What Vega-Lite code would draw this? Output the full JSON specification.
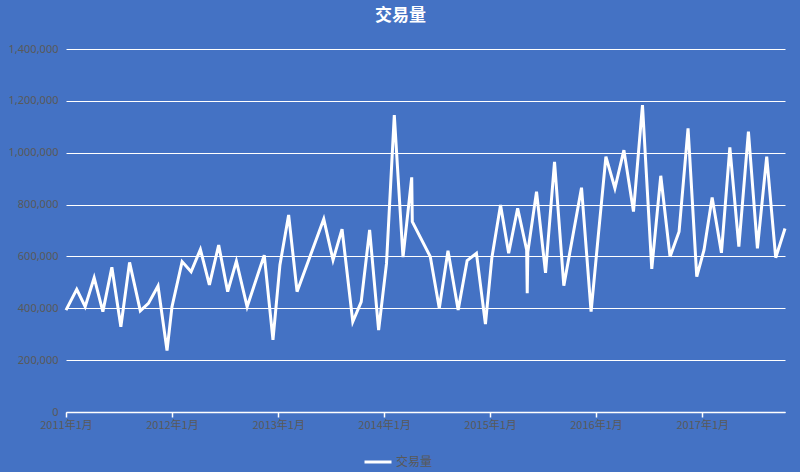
{
  "$schema": "https://vega.github.io/schema/vega-lite/v6.json",
  "width": 719,
  "height": 363,
  "autosize": {"type": "none"},
  "padding": {"left": 66, "top": 49, "right": 15, "bottom": 60},
  "background": "#4472C4",
  "config": {"view": {"stroke": null}, "font": "Noto Sans CJK SC"},
  "title": {
    "text": "交易量",
    "color": "#ffffff",
    "fontSize": 17,
    "font": "Noto Sans CJK SC",
    "fontWeight": "bold",
    "anchor": "middle",
    "dx": -25,
    "offset": 18
  },
  "data": {
    "values": [
      {"date": "2011-01-01", "value": 393000},
      {"date": "2011-02-07", "value": 473000},
      {"date": "2011-03-08", "value": 406000},
      {"date": "2011-04-08", "value": 518000},
      {"date": "2011-05-08", "value": 387000},
      {"date": "2011-06-08", "value": 558000},
      {"date": "2011-07-09", "value": 329000},
      {"date": "2011-08-08", "value": 577000},
      {"date": "2011-09-14", "value": 390000},
      {"date": "2011-10-12", "value": 419000},
      {"date": "2011-11-14", "value": 486000},
      {"date": "2011-12-15", "value": 237000},
      {"date": "2012-01-01", "value": 405000},
      {"date": "2012-02-05", "value": 580000},
      {"date": "2012-03-07", "value": 541000},
      {"date": "2012-04-08", "value": 627000},
      {"date": "2012-05-09", "value": 490000},
      {"date": "2012-06-10", "value": 644000},
      {"date": "2012-07-11", "value": 464000},
      {"date": "2012-08-10", "value": 582000},
      {"date": "2012-09-16", "value": 406000},
      {"date": "2012-11-14", "value": 605000},
      {"date": "2012-12-14", "value": 278000},
      {"date": "2013-01-07", "value": 567000},
      {"date": "2013-02-06", "value": 760000},
      {"date": "2013-03-07", "value": 464000},
      {"date": "2013-06-07", "value": 744000},
      {"date": "2013-07-09", "value": 586000},
      {"date": "2013-08-09", "value": 705000},
      {"date": "2013-09-15", "value": 348000},
      {"date": "2013-10-14", "value": 425000},
      {"date": "2013-11-12", "value": 702000},
      {"date": "2013-12-13", "value": 316000},
      {"date": "2014-01-09", "value": 571000},
      {"date": "2014-02-05", "value": 1145000},
      {"date": "2014-03-07", "value": 597000},
      {"date": "2014-04-06", "value": 905000},
      {"date": "2014-04-08", "value": 734000},
      {"date": "2014-06-09", "value": 599000},
      {"date": "2014-07-10", "value": 400000},
      {"date": "2014-08-09", "value": 622000},
      {"date": "2014-09-13", "value": 393000},
      {"date": "2014-10-14", "value": 584000},
      {"date": "2014-11-15", "value": 612000},
      {"date": "2014-12-16", "value": 339000},
      {"date": "2015-01-07", "value": 594000},
      {"date": "2015-02-06", "value": 798000},
      {"date": "2015-03-06", "value": 612000},
      {"date": "2015-04-06", "value": 786000},
      {"date": "2015-05-07", "value": 625000},
      {"date": "2015-05-09", "value": 458000},
      {"date": "2015-05-11", "value": 617000},
      {"date": "2015-06-10", "value": 850000},
      {"date": "2015-07-11", "value": 537000},
      {"date": "2015-08-11", "value": 965000},
      {"date": "2015-09-12", "value": 487000},
      {"date": "2015-11-12", "value": 865000},
      {"date": "2015-12-15", "value": 387000},
      {"date": "2016-01-09", "value": 683000},
      {"date": "2016-02-04", "value": 985000},
      {"date": "2016-03-06", "value": 863000},
      {"date": "2016-04-06", "value": 1010000},
      {"date": "2016-05-09", "value": 773000},
      {"date": "2016-06-09", "value": 1184000},
      {"date": "2016-07-11", "value": 552000},
      {"date": "2016-08-11", "value": 911000},
      {"date": "2016-09-12", "value": 599000},
      {"date": "2016-10-13", "value": 695000},
      {"date": "2016-11-13", "value": 1094000},
      {"date": "2016-12-13", "value": 522000},
      {"date": "2017-01-07", "value": 625000},
      {"date": "2017-02-04", "value": 827000},
      {"date": "2017-03-08", "value": 614000},
      {"date": "2017-04-06", "value": 1021000},
      {"date": "2017-05-07", "value": 638000},
      {"date": "2017-06-09", "value": 1081000},
      {"date": "2017-07-10", "value": 631000},
      {"date": "2017-08-11", "value": 985000},
      {"date": "2017-09-11", "value": 595000},
      {"date": "2017-10-13", "value": 708000}
    ]
  },
  "mark": {"type": "line", "strokeWidth": 3, "strokeJoin": "miter", "strokeMiterLimit": 4},
  "encoding": {
    "x": {
      "field": "date",
      "type": "temporal",
      "scale": {
        "type": "utc",
        "domain": [
          {"year": 2011, "month": 1, "date": 1, "utc": true},
          {"year": 2017, "month": 10, "date": 13, "utc": true}
        ],
        "nice": false
      },
      "axis": {
        "title": null,
        "grid": false,
        "values": [
          {"year": 2011, "month": 1, "date": 1, "utc": true},
          {"year": 2012, "month": 1, "date": 1, "utc": true},
          {"year": 2013, "month": 1, "date": 1, "utc": true},
          {"year": 2014, "month": 1, "date": 1, "utc": true},
          {"year": 2015, "month": 1, "date": 1, "utc": true},
          {"year": 2016, "month": 1, "date": 1, "utc": true},
          {"year": 2017, "month": 1, "date": 1, "utc": true}
        ],
        "labelExpr": "utcFormat(datum.value, '%Y') + '年' + (utcmonth(datum.value) + 1) + '月'",
        "domainColor": "#ffffff",
        "domainWidth": 1.5,
        "tickColor": "#ffffff",
        "tickWidth": 1.5,
        "tickSize": 5,
        "labelColor": "#595959",
        "labelFontSize": 11,
        "labelFont": "Noto Sans CJK SC",
        "labelPadding": 2,
        "labelOverlap": false,
        "labelFlush": false
      }
    },
    "y": {
      "field": "value",
      "type": "quantitative",
      "scale": {"domain": [0, 1400000], "nice": false},
      "axis": {
        "title": null,
        "values": [0, 200000, 400000, 600000, 800000, 1000000, 1200000, 1400000],
        "format": ",d",
        "domain": false,
        "ticks": false,
        "gridColor": "#ffffff",
        "gridWidth": 1,
        "labelColor": "#595959",
        "labelFontSize": 11,
        "labelFont": "Noto Sans",
        "labelPadding": 8
      }
    },
    "color": {
      "datum": "交易量",
      "scale": {"range": ["#ffffff"]},
      "legend": {
        "title": null,
        "orient": "none",
        "legendX": 297,
        "legendY": 398,
        "padding": 0,
        "symbolType": "stroke",
        "symbolStrokeWidth": 3,
        "symbolSize": 729,
        "labelColor": "#595959",
        "labelFontSize": 12,
        "labelFont": "Noto Sans CJK SC",
        "labelOffset": 3
      }
    }
  }
}
